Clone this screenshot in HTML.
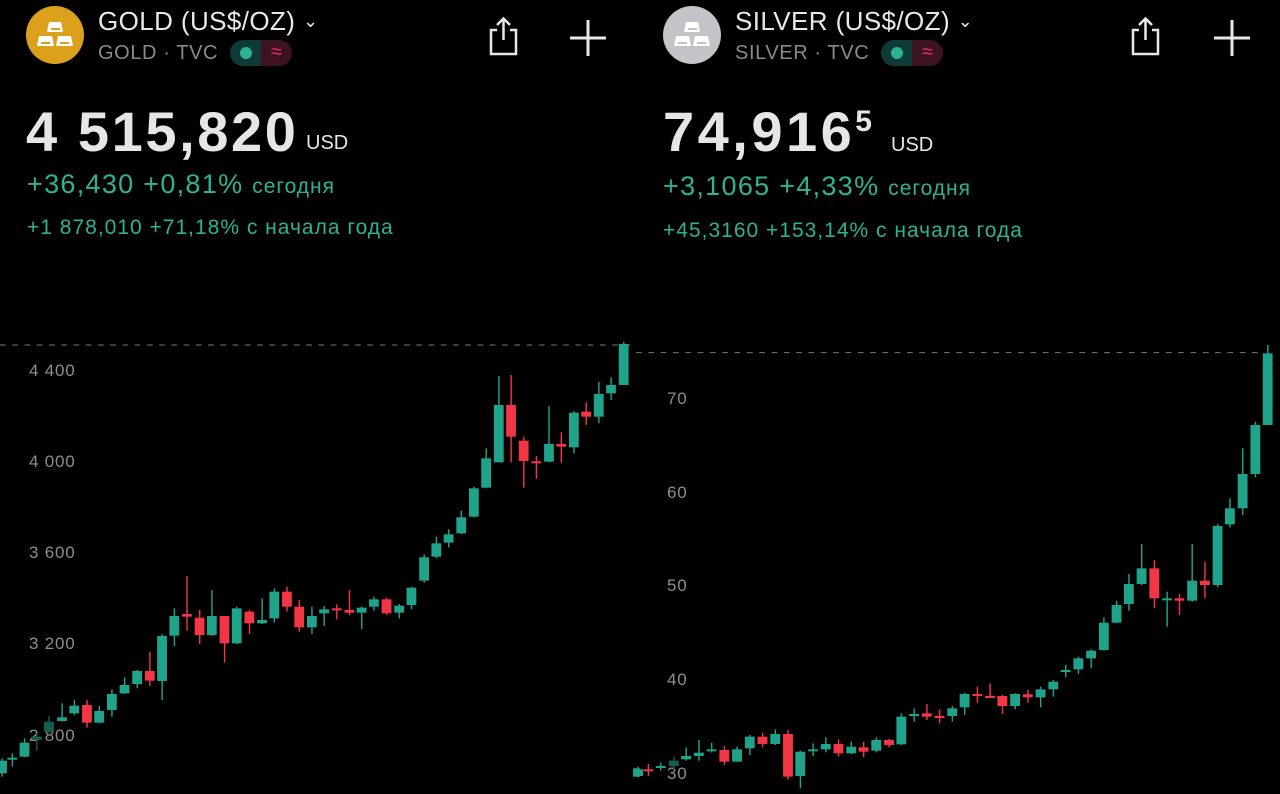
<!DOCTYPE html>
<html><head><meta charset="utf-8">
<style>
html,body{margin:0;padding:0;background:#000;width:1280px;height:794px;overflow:hidden;font-family:"Liberation Sans",sans-serif;}
.a{position:absolute;white-space:nowrap;}
.title{font-size:26px;color:#e8e8e8;letter-spacing:0.4px;}
.sub{font-size:20px;color:#8a8a8a;letter-spacing:0.6px;}
.price{font-size:56px;color:#e6e6e6;font-weight:bold;letter-spacing:2.6px;}
.usd{font-size:20px;color:#e6e6e6;}
.ch{font-size:27px;color:#2db394;letter-spacing:1.3px;}
.ch small{font-size:21px;letter-spacing:1px;}
.ytd{font-size:21px;color:#2db394;letter-spacing:1px;}
.ax{font-size:17px;color:#8e8e8e;letter-spacing:0.8px;}
.badge{position:absolute;height:26px;width:62px;border-radius:13px;overflow:hidden;}
.badge .l{position:absolute;left:0;top:0;width:31px;height:26px;background:#0e3a37;}
.badge .r{position:absolute;left:31px;top:0;width:31px;height:26px;background:#3d1221;color:#e5306a;font-size:20px;text-align:center;line-height:25px;}
.badge .d{position:absolute;left:10px;top:7px;width:12px;height:12px;border-radius:6px;background:#2db394;}
svg{position:absolute;}
</style></head><body>

<!-- GOLD header -->
<div class="a" style="left:26px;top:6px;width:58px;height:58px;border-radius:29px;background:#dba01c;"></div>
<svg style="left:26px;top:6px" width="58" height="58"><g fill="#fff"><polygon points="23,16 35,16 37,26 21,26"/><polygon points="13,30 26,30 28,40 11,40"/><polygon points="32,30 45,30 47,40 30,40"/></g><g fill="#dba01c"><rect x="25" y="22" width="9" height="2"/><rect x="15" y="36" width="9" height="2"/><rect x="34" y="36" width="9" height="2"/></g></svg>
<div class="a title" style="left:98px;top:6px;">GOLD (US$/OZ) <span style="font-size:18px;position:relative;top:-3px">&#8964;</span></div>
<div class="a sub" style="left:98px;top:42px;">GOLD · TVC</div>
<div class="badge" style="left:230px;top:40px;"><div class="l"><div class="d"></div></div><div class="r">≈</div></div>
<svg style="left:486px;top:16px" width="36" height="42"><g fill="none" stroke="#e8e8e8" stroke-width="2.5"><path d="M11 14 H5 V38 H30 V14 H24"/><path d="M17.5 24 V3 M11 9 L17.5 2.5 L24 9"/></g></svg>
<svg style="left:568px;top:18px" width="40" height="40"><g stroke="#e8e8e8" stroke-width="3"><path d="M20 2 V38 M2 20 H38"/></g></svg>
<div class="a price" style="left:26px;top:99px;">4 515,820</div>
<div class="a usd" style="left:306px;top:132px;">USD</div>
<div class="a ch" style="left:27px;top:169px;">+36,430 +0,81% <small>сегодня</small></div>
<div class="a ytd" style="left:27px;top:216px;">+1 878,010 +71,18% с начала года</div>

<!-- SILVER header -->
<div class="a" style="left:663px;top:6px;width:58px;height:58px;border-radius:29px;background:#c4c3c8;"></div>
<svg style="left:663px;top:6px" width="58" height="58"><g fill="#fff"><polygon points="23,16 35,16 37,26 21,26"/><polygon points="13,30 26,30 28,40 11,40"/><polygon points="32,30 45,30 47,40 30,40"/></g><g fill="#c4c3c8"><rect x="25" y="22" width="9" height="2"/><rect x="15" y="36" width="9" height="2"/><rect x="34" y="36" width="9" height="2"/></g></svg>
<div class="a title" style="left:735px;top:6px;">SILVER (US$/OZ) <span style="font-size:18px;position:relative;top:-3px">&#8964;</span></div>
<div class="a sub" style="left:735px;top:42px;">SILVER · TVC</div>
<div class="badge" style="left:881px;top:40px;"><div class="l"><div class="d"></div></div><div class="r">≈</div></div>
<svg style="left:1128px;top:16px" width="36" height="42"><g fill="none" stroke="#e8e8e8" stroke-width="2.5"><path d="M11 14 H5 V38 H30 V14 H24"/><path d="M17.5 24 V3 M11 9 L17.5 2.5 L24 9"/></g></svg>
<svg style="left:1212px;top:18px" width="40" height="40"><g stroke="#e8e8e8" stroke-width="3"><path d="M20 2 V38 M2 20 H38"/></g></svg>
<div class="a price" style="left:663px;top:99px;letter-spacing:3.5px;">74,916<span style="font-size:30px;position:relative;top:-20px;letter-spacing:0;">5</span></div>
<div class="a usd" style="left:891px;top:134px;">USD</div>
<div class="a ch" style="left:663px;top:171px;">+3,1065 +4,33% <small>сегодня</small></div>
<div class="a ytd" style="left:663px;top:219px;">+45,3160 +153,14% с начала года</div>

<!-- axis labels -->
<div class="a ax" style="left:29px;top:361px;">4 400</div>
<div class="a ax" style="left:29px;top:452px;">4 000</div>
<div class="a ax" style="left:29px;top:543px;">3 600</div>
<div class="a ax" style="left:29px;top:634px;">3 200</div>
<div class="a ax" style="left:29px;top:726px;">2 800</div>
<div class="a ax" style="left:667px;top:389px;">70</div>
<div class="a ax" style="left:667px;top:483px;">60</div>
<div class="a ax" style="left:667px;top:576px;">50</div>
<div class="a ax" style="left:667px;top:670px;">40</div>
<div class="a ax" style="left:667px;top:764px;">30</div>

<svg id="g" style="left:0;top:340px" width="640" height="454" viewBox="0 0 1568 1362" preserveAspectRatio="none"></svg>
<svg id="s" style="left:636px;top:340px" width="644" height="454" viewBox="0 0 1568 1362" preserveAspectRatio="none"></svg>

<script>
var G="#1fa38a",R="#f23645",F="#175e52";
var gold=[
["g",5,1262,1300,1255,1310],["g",30,1253,1258,1240,1280],["g",60,1208,1250,1195,1252],["f",90,1190,1200,1180,1232],["f",120,1145,1175,1128,1180],
["g",152,1132,1143,1090,1145],["g",182,1097,1120,1080,1125],["r",213,1095,1148,1080,1163],["g",243,1113,1148,1098,1150],["g",274,1062,1110,1048,1130],
["g",305,1035,1060,1012,1062],["g",336,993,1032,990,1045],["r",367,993,1022,935,1038],["g",397,888,1023,883,1080],["g",427,828,887,805,918],
["r",458,822,830,708,872],["r",489,833,885,810,912],["g",519,828,885,750,888],["r",550,828,910,828,968],["g",580,805,910,800,912],
["r",611,815,850,810,882],["g",642,840,850,775,852],["g",672,755,835,745,848],["r",703,755,800,740,815],["r",733,800,862,780,875],
["g",764,828,862,800,882],["g",794,808,820,798,858],["r",825,805,810,793,838],["r",856,810,818,750,825],["g",886,803,818,800,868],
["g",916,778,800,770,812],["r",947,778,820,773,825],["g",978,797,818,792,835],["g",1008,743,795,740,808],["g",1039,652,722,643,728],
["g",1069,610,650,590,655],["g",1099,583,608,568,622],["g",1130,532,580,512,583],["g",1161,445,530,440,532],["g",1191,355,443,325,445],
["g",1222,195,367,108,367],["r",1252,195,290,105,367],["r",1283,302,363,290,443],["r",1314,364,369,348,416],["g",1345,312,365,198,367],
["r",1375,312,320,277,368],["g",1406,218,322,213,340],["r",1436,215,230,187,255],["g",1467,162,230,125,250],["g",1497,135,160,112,180],
["g",1528,12,135,5,135],["g",1563,1285,1310,1280,1312]];
var silver=[
["g",5,1288,1308,1282,1310],["r",30,1288,1293,1272,1308],["g",60,1278,1282,1268,1292],["f",92,1262,1278,1250,1290],["g",122,1248,1258,1222,1262],
["g",153,1238,1248,1200,1262],["g",184,1228,1233,1208,1238],["r",215,1230,1265,1218,1275],["g",246,1228,1265,1220,1265],["g",277,1190,1225,1185,1245],
["r",308,1190,1212,1178,1222],["g",339,1182,1212,1168,1215],["r",370,1182,1310,1170,1318],["g",400,1235,1308,1232,1345],["g",431,1228,1233,1210,1248],
["g",462,1212,1228,1192,1237],["r",493,1212,1240,1198,1250],["g",524,1220,1240,1205,1242],["r",554,1222,1235,1205,1252],["g",585,1200,1232,1192,1237],
["r",616,1200,1215,1197,1222],["g",646,1130,1213,1120,1215],["g",677,1122,1127,1105,1145],["r",708,1120,1130,1092,1140],["r",739,1128,1133,1108,1150],
["g",770,1105,1128,1098,1145],["g",800,1062,1102,1058,1125],["r",831,1062,1068,1040,1088],["r",862,1068,1072,1030,1075],["r",892,1068,1098,1065,1122],
["g",923,1062,1098,1060,1108],["r",954,1063,1072,1050,1088],["g",985,1048,1072,1040,1102],["g",1016,1025,1048,1020,1070],["g",1046,990,995,975,1012],
["g",1077,955,988,950,1002],["g",1108,932,955,928,985],["g",1139,848,930,832,932],["g",1170,795,848,782,850],["g",1200,732,792,702,812],
["g",1231,685,732,612,735],["r",1262,685,775,660,805],["g",1293,775,778,755,860],["r",1323,775,782,762,825],["g",1354,722,782,612,785],
["r",1385,722,735,665,775],["g",1416,558,735,552,742],["g",1446,505,553,475,562],["g",1477,402,505,325,525],["g",1508,255,402,245,412],
["g",1538,40,255,15,255]];
function draw(id,data,dashY,dashEnd){
 var h='<line x1="0" x2="'+dashEnd+'" y1="'+dashY+'" y2="'+dashY+'" stroke="#777" stroke-width="3" stroke-dasharray="14,16"/>';
 data.forEach(function(c){
  var col=c[0]=="g"?G:c[0]=="r"?R:F;
  h+='<rect x="'+(c[1]-1.5)+'" y="'+c[4]+'" width="3.5" height="'+(c[5]-c[4])+'" fill="'+col+'"/>';
  h+='<rect x="'+(c[1]-12)+'" y="'+c[2]+'" width="24" height="'+Math.max(6,c[3]-c[2])+'" fill="'+col+'"/>';
 });
 document.getElementById(id).innerHTML=h;
}
draw("g",gold,15,1545);
draw("s",silver,38,1520);
</script>
</body></html>
